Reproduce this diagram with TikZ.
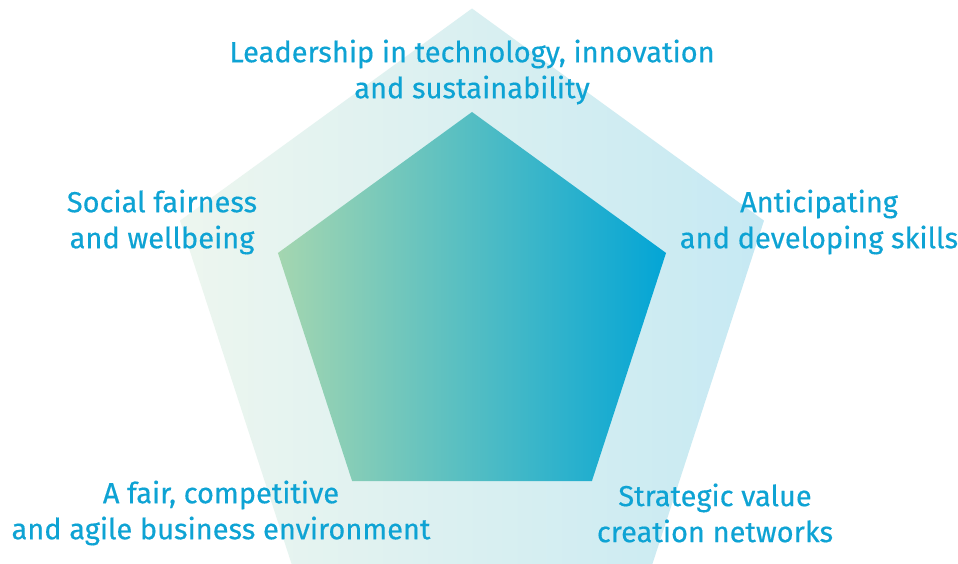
\documentclass[tikz,border=0pt]{standalone}
\usetikzlibrary{shapes.geometric}
\usepackage{fontspec}
\setmainfont[FakeBold=0.4]{Fira Sans}
\definecolor{txt}{HTML}{0EA3D4}
\definecolor{outL}{HTML}{EDF6EF}
\definecolor{outR}{HTML}{C6E9F3}
\definecolor{inL}{HTML}{A4D6B0}
\definecolor{inR}{HTML}{03A5D6}
\tikzset{
  pent/.style={regular polygon, regular polygon sides=5, inner sep=0pt, outer sep=0pt, draw=none},
  lbl/.style={text=txt, align=center, inner sep=0pt, font=\fontsize{29}{36}\selectfont}
}
\begin{document}
\begin{tikzpicture}[x=1pt,y=-1pt]
\useasboundingbox[fill=white] (0,0) rectangle (958,564);
\begin{scope}
\clip (0,0) rectangle (958,564);
\node[pent, minimum size=614pt, left color=outL, right color=outR] (outer) at (472,315.5) {};
\node[pent, minimum size=408pt, left color=inL, right color=inR] (inner) at (472,316) {};
\end{scope}
\node[lbl] (top) at (472,72) {Leadership in technology, innovation\\and sustainability};
\node[lbl] (left) at (162,222) {Social fairness\\and wellbeing};
\node[lbl] (right) at (819,222) {Anticipating\\and developing skills};
\node[lbl] (bl) at (221,513) {A fair, competitive\\and agile business environment};
\node[lbl] (br) at (715,513) {Strategic value\\creation networks};
\end{tikzpicture}
\end{document}
